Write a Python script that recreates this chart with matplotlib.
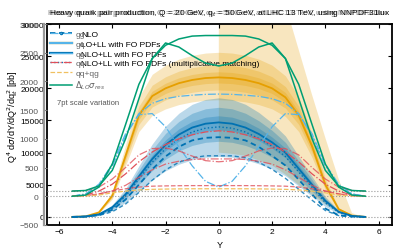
import matplotlib
matplotlib.use("Agg")
import matplotlib.pyplot as plt
from matplotlib.lines import Line2D
import numpy as np

# rapidity grid shared by all curves
rap = [-5.5, -5.0, -4.5, -4.0, -3.5, -3.0, -2.5, -2.0, -1.5, -1.0, -0.5, 0.0,
       0.5, 1.0, 1.5, 2.0, 2.5, 3.0, 3.5, 4.0, 4.5, 5.0, 5.5]

# main (black) axis, pb
lo_ll = [0, 80, 700, 3300, 9500, 15800, 18800, 20000, 20800, 21300, 21600, 21700,
         21600, 21300, 20800, 20000, 18600, 15800, 11000, 5000, 1200, 200, 0]
nlo_ll = [0, 60, 400, 1500, 3500, 6300, 9000, 11200, 12800, 13900, 14500, 14700,
          14500, 13900, 12900, 11600, 10000, 7500, 5000, 2500, 800, 150, 0]
nlo_ll_mult = [0, 50, 350, 1350, 3200, 5900, 8500, 10600, 12100, 13200, 13800, 14000,
               13800, 13200, 12200, 11000, 9400, 7000, 4600, 2200, 700, 120, 0]
nlo = [0, 50, 300, 1100, 2700, 5000, 7400, 9400, 10900, 11900, 12300, 12400,
       12300, 11900, 10900, 9500, 8000, 5800, 3500, 1300, 250, 60, 0]
nlo_alt = [0, 40, 220, 800, 2000, 3800, 5700, 7300, 8500, 9200, 9500, 9500,
           9500, 9200, 8500, 7400, 6000, 4300, 2600, 1000, 200, 40, 0]

# relative scale-variation half widths (inner, middle, outer)
blue_up = [0.07, 0.16, 0.26]
blue_dn = [0.08, 0.20, 0.36]
orange_up = [0.04, 0.09, 0.18]
orange_dn = [0.04, 0.09, 0.16]

# wide orange envelope on the forward side
rap_fwd = [0.0, 0.5, 1.0, 1.5, 2.0, 2.5, 3.0, 3.5, 4.0, 4.5, 5.0, 5.4]
fwd_hi = [60000, 58000, 54000, 48000, 41000, 33000, 26000, 19000, 12300, 5900, 600, 0]
fwd_lo = [10000, 9800, 9500, 8800, 8000, 6600, 5000, 3400, 2000, 800, 100, 0]

# channel (grey) axis
gg = [0, 40, 210, 560, 1090, 1420, 1440, 1210, 860, 530, 260, 160,
      260, 530, 860, 1210, 1440, 1420, 1090, 560, 210, 40, 0]
gq = [0, 40, 180, 520, 1050, 1440, 1620, 1700, 1740, 1760, 1775, 1780,
      1775, 1760, 1740, 1700, 1620, 1440, 1050, 520, 180, 40, 0]
qg = [0, 20, 90, 210, 390, 600, 770, 900, 1000, 1070, 1120, 1140,
      1120, 1070, 1000, 900, 770, 600, 390, 210, 90, 20, 0]
qq = [0, 10, 40, 90, 190, 330, 460, 560, 610, 640, 650, 650,
      650, 640, 610, 560, 460, 330, 190, 90, 40, 10, 0]
qq_b = [90, 100, 160, 300, 500, 720, 830, 840, 790, 700, 620, 600,
        620, 700, 790, 840, 830, 720, 500, 300, 160, 100, 90]
qq_small = [0, 10, 40, 90, 130, 160, 175, 180, 183, 185, 185, 185,
            185, 185, 183, 180, 175, 160, 130, 90, 40, 10, 0]
qqqg = [0, 5, 20, 60, 90, 110, 120, 125, 128, 130, 130, 130,
        130, 130, 128, 125, 120, 110, 90, 60, 20, 5, 0]
dsig_res = [0, 20, 160, 560, 1250, 1950, 2400, 2630, 2740, 2790, 2800, 2800,
            2800, 2790, 2740, 2630, 2400, 1950, 1250, 560, 160, 20, 0]
dsig_res_b = [90, 100, 180, 450, 1000, 1700, 2400, 2670, 2600, 2450, 2320, 2270,
              2320, 2450, 2600, 2670, 2400, 1700, 1000, 450, 180, 100, 90]

blue = '#0072B2'
lblue = '#56B4E9'
orange = '#E69F00'
lorange = '#F0C060'
green = '#009E73'
red = '#E0505A'

plt.rcParams['font.family'] = ['Liberation Sans', 'DejaVu Sans']
plt.rcParams['font.size'] = 6

fig = plt.figure(figsize=(4.07, 2.53), dpi=100)
rect = [0.1155, 0.107, 0.8475, 0.794]
ax = fig.add_axes(rect)
ax2 = fig.add_axes(rect, sharex=ax)
ax2.patch.set_visible(False)

x = np.array(rap)

# bands
for up, dn in zip(orange_up, orange_dn):
    c = np.array(lo_ll)
    ax.fill_between(x, c * (1 - dn), c * (1 + up), color=orange, alpha=0.25, lw=0)
ax.fill_between(rap_fwd, fwd_lo, fwd_hi, color=orange, alpha=0.25, lw=0)
for up, dn in zip(blue_up, blue_dn):
    c = np.array(nlo_ll)
    ax.fill_between(x, c * (1 - dn), c * (1 + up), color=blue, alpha=0.27, lw=0)

ax.axhline(0, color='#999999', ls=':', lw=0.8)
ax.plot(x, lo_ll, color=orange, lw=1.3)
ax.plot(x, nlo_ll, color=blue, lw=1.3)
ax.plot(x, nlo_ll_mult, color=blue, lw=1.0, ls=':')
ax.plot(x, nlo, color=blue, lw=1.3, ls=(0, (3, 2)))
ax.plot(x, nlo_alt, color=blue, lw=1.0, ls=(0, (3, 2)), alpha=0.8)

ax2.axhline(0, color='#999999', ls=':', lw=0.8)
ax2.axhline(90, color='#999999', ls=':', lw=0.8)
ax2.plot(x, gg, color=lblue, lw=0.9, ls='-.')
ax2.plot(x, gq, color=lblue, lw=0.9, ls='-.')
ax2.plot(x, qg, color=red, lw=0.9, ls='-.')
ax2.plot(x, qq, color=red, lw=0.9, ls='-.', alpha=0.8)
ax2.plot(x, qq_b, color=red, lw=0.9, ls='-.', alpha=0.8)
ax2.plot(x, qq_small, color=red, lw=0.9, ls='--', alpha=0.8)
ax2.plot(x, qqqg, color=lorange, lw=0.9, ls='--')
ax2.plot(x, dsig_res, color=green, lw=1.1)
ax2.plot(x, dsig_res_b, color=green, lw=1.1)

ax.set_xlim(-6.45, 6.5)
ax.set_ylim(-1250, 30000)
ax.set_yticks(range(0, 30001, 5000))
ax.set_xticks(range(-6, 7, 2))
ax.tick_params(direction='in', top=True, right=True, length=3, width=0.8, labelsize=6, pad=2)
for s in ax.spines.values():
    s.set_linewidth(1.3)

ax2.set_ylim(-500, 3000)
ax2.set_yticks(range(-500, 3001, 500))
ax2.tick_params(axis='y', colors='#777777', labelcolor='#555555', direction='in',
                length=2, labelsize=6, pad=4)
ax2.tick_params(axis='x', bottom=False, labelbottom=False)
for k in ['top', 'right', 'bottom']:
    ax2.spines[k].set_visible(False)
ax2.spines['left'].set_position(('outward', 2))
ax2.spines['left'].set_color('#999999')
ax2.spines['left'].set_linewidth(1.6)

ax.set_xlabel('Y', fontsize=6.5, labelpad=4)
fig.text(0.03, 0.54, r'Q$^4$ d$\sigma$/dY/dQ$^2$/dq$_t^2$ [pb]', rotation=90,
         ha='center', va='center', fontsize=6.5)

title = 'Heavy quark pair production, Q = 20 GeV, q$_t$ = 50 GeV, at LHC 13 TeV, using NNPDF31lux'
fig.text(0.535, 0.945, title, ha='center', va='center', fontsize=6, color='#888888')
fig.text(0.54, 0.945, title, ha='center', va='center', fontsize=6)

ax.text(0.03, 0.6, '7pt scale variation', transform=ax.transAxes, fontsize=5.5, color='#555555')

h_black = [
    Line2D([], [], color=blue, lw=1.3, ls=(0, (3, 2)), marker='.', ms=3),
    Line2D([], [], color=orange, lw=1.6),
    Line2D([], [], color=blue, lw=1.6),
    Line2D([], [], color=blue, lw=1.0, ls=':'),
]
lab_black = ['NLO', 'LO+LL with FO PDFs', 'NLO+LL with FO PDFs',
             'NLO+LL with FO PDFs (multiplicative matching)']
h_grey = [
    Line2D([], [], color=lblue, lw=0.9, ls='-.'),
    Line2D([], [], color=lblue, lw=1.6),
    Line2D([], [], color=lblue, lw=0.9),
    Line2D([], [], color=red, lw=0.9, ls='-.'),
    Line2D([], [], color=lorange, lw=0.9, ls='--'),
    Line2D([], [], color=green, lw=1.1),
]
lab_grey = ['gg', 'gq', 'qg', 'qq', 'qq+qg', r'$\Delta_{LO}\sigma_{res}$']

leg2 = ax2.legend(h_grey, lab_grey, loc='upper left', bbox_to_anchor=(0.0, 0.985),
                  frameon=False, fontsize=6, handlelength=2.6, handletextpad=0.4,
                  labelspacing=0.22, borderpad=0.2, borderaxespad=0.2)
for t in leg2.get_texts():
    t.set_color('#666666')
leg1 = ax.legend(h_black, lab_black, loc='upper left', bbox_to_anchor=(0.0, 0.985),
                 frameon=False, fontsize=6, handlelength=2.6, handletextpad=1.1,
                 labelspacing=0.22, borderpad=0.2, borderaxespad=0.2)
leg1.set_zorder(5)

fig.savefig('out.png', dpi=100)
